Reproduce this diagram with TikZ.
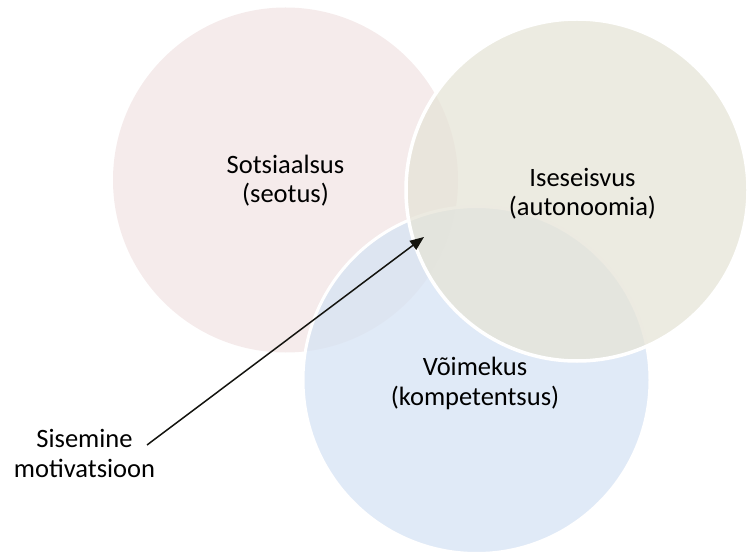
\documentclass[tikz,border=0pt]{standalone}
\usepackage{fontspec}
\setmainfont{Carlito}
\usetikzlibrary{arrows.meta}
\definecolor{pinkfill}{RGB}{245,235,235}
\definecolor{greenfill}{RGB}{230,228,215}
\definecolor{bluefill}{RGB}{214,227,244}
\definecolor{inkline}{RGB}{20,20,15}
\tikzset{
  bubble/.style={circle, inner sep=0pt, minimum size=#1},
  label text/.style={align=center, font=\fontsize{26.5}{29.5}\selectfont, text=black},
  pointer/.style={draw=inkline, line width=1.5pt, -{Triangle[length=14pt,width=11pt]}}
}
\begin{document}
\begin{tikzpicture}[x=1pt, y=-1pt]
  \useasboundingbox (0,0) rectangle (747,553);
  % three overlapping needs
  \node[bubble=345pt, fill=pinkfill] (social) at (285.5,180) {};
  \node[bubble=347pt, fill=bluefill, fill opacity=0.75, draw=white, line width=3pt] (competence) at (476.5,380) {};
  \node[bubble=342pt, fill=greenfill, fill opacity=0.75, draw=white, line width=3.5pt] (autonomy) at (577,190) {};
  % captions
  \node[label text] (socialtext) at (285.5,180.5) {Sotsiaalsus\\(seotus)};
  \node[label text] (autonomytext) at (582.5,193.5) {Iseseisvus\\(autonoomia)};
  \node[label text] (competencetext) at (475,383.5) {Võimekus\\(kompetentsus)};
  \node[label text] (intrinsic) at (84.5,453.5) {Sisemine\\motivatsioon};
  % pointer to the shared centre
  \coordinate (start) at (147,445);
  \coordinate (core) at (424,237);
  \draw[pointer] (start) -- (core);
\end{tikzpicture}
\end{document}
